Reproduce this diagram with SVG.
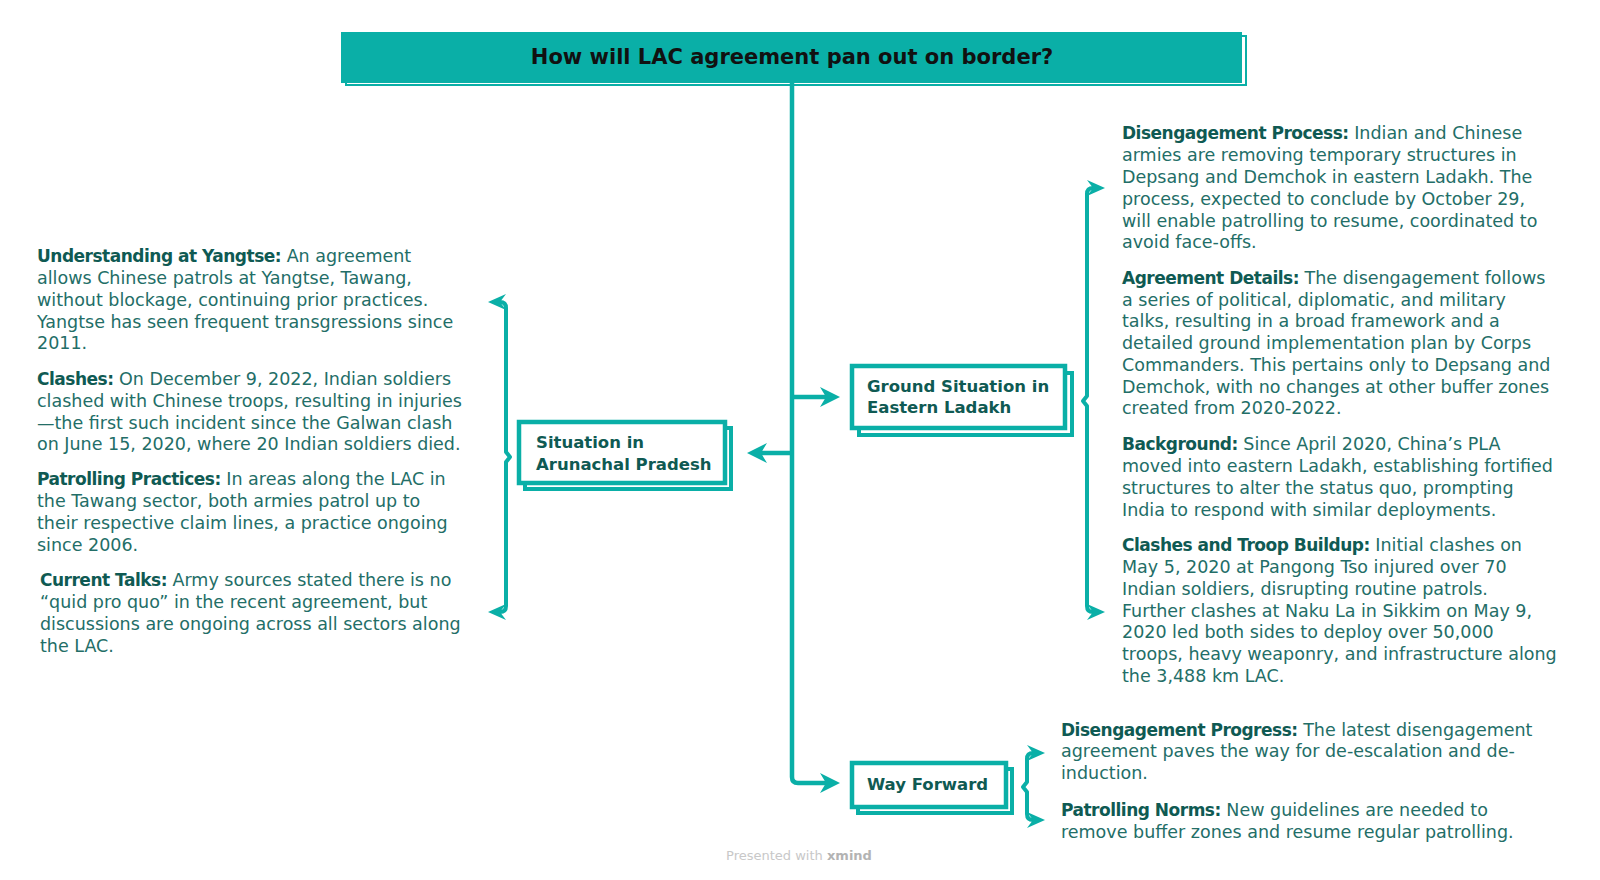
<svg xmlns="http://www.w3.org/2000/svg" width="1600" height="880" viewBox="0 0 1600 880">
<defs>
<style>
.t{font-family:"DejaVu Sans","Liberation Sans",sans-serif;font-size:17.5px;fill:#236e67}
.b{font-weight:bold;fill:#0f5a53;font-size:17px;letter-spacing:-0.5px}
.lbl{font-family:"DejaVu Sans","Liberation Sans",sans-serif;font-size:16.5px;font-weight:bold;fill:#0f5a53}
.ln{fill:none;stroke:#0aafa7;stroke-width:4.5;stroke-linejoin:round}
.br{fill:none;stroke:#0aafa7;stroke-width:4;stroke-linejoin:round}
.bk{fill:#ffffff;stroke:#0aafa7;stroke-width:4}
.fr{fill:#ffffff;stroke:#0aafa7;stroke-width:4.5}
</style>
<marker id="ah" viewBox="0 0 20 20" refX="6" refY="10" markerWidth="20" markerHeight="20" markerUnits="userSpaceOnUse" orient="auto-start-reverse">
<path d="M0 0 L20 10 L0 20 L6 10 Z" fill="#0aafa7"/>
</marker>
<marker id="ab" viewBox="0 0 18 16" refX="6" refY="8" markerWidth="18" markerHeight="16" markerUnits="userSpaceOnUse" orient="auto-start-reverse">
<path d="M0 0 L18 8 L0 16 L6 8 Z" fill="#0aafa7"/>
</marker>
</defs>
<rect width="1600" height="880" fill="#ffffff"/>

<g id="connectors">
<path class="ln" d="M792 83 L792 777 Q792 783 798 783 L826 783" marker-end="url(#ah)"/>
<path class="ln" d="M792 397 L826 397" marker-end="url(#ah)"/>
<path class="ln" d="M792 453 L761 453" marker-end="url(#ah)"/>
<path class="br" d="M500 302 Q506 302 506 308 L506 452 L510 457 L506 462 L506 606 Q506 612 500 612" marker-start="url(#ab)" marker-end="url(#ab)"/>
<path class="br" d="M1093 188 Q1087 188 1087 194 L1087 396 L1083 401 L1087 406 L1087 606 Q1087 612 1093 612" marker-start="url(#ab)" marker-end="url(#ab)"/>
<path class="br" d="M1033 753 Q1027 753 1027 759 L1027 782 L1023 787 L1027 792 L1027 814 Q1027 820 1033 820" marker-start="url(#ab)" marker-end="url(#ab)"/>
</g>

<g id="title">
<rect x="346" y="36" width="900" height="49" fill="none" stroke="#0aafa7" stroke-width="2"/>
<rect x="341" y="32" width="901" height="51" fill="#0aafa7"/>
<text x="792" y="64" text-anchor="middle" font-family="DejaVu Sans, Liberation Sans, sans-serif" font-size="21px" font-weight="bold" fill="#111111">How will LAC agreement pan out on border?</text>
</g>

<g id="node-arunachal">
<rect class="bk" x="525" y="428" width="206" height="61"/>
<rect class="fr" x="519" y="422" width="206" height="61"/>
<text class="lbl" x="536" y="448">Situation in</text>
<text class="lbl" x="536" y="470">Arunachal Pradesh</text>
</g>

<g id="node-ground">
<rect class="bk" x="859" y="373" width="213" height="62"/>
<rect class="fr" x="852" y="366" width="213" height="62"/>
<text class="lbl" x="867" y="392">Ground Situation in</text>
<text class="lbl" x="867" y="413">Eastern Ladakh</text>
</g>

<g id="node-way">
<rect class="bk" x="858" y="769" width="154" height="44"/>
<rect class="fr" x="852" y="763" width="154" height="44"/>
<text class="lbl" x="867" y="790">Way Forward</text>
</g>

<g id="notes-arunachal">
<text class="t" x="37" y="262"><tspan class="b">Understanding at Yangtse:</tspan> An agreement</text>
<text class="t" x="37" y="284">allows Chinese patrols at Yangtse, Tawang,</text>
<text class="t" x="37" y="306">without blockage, continuing prior practices.</text>
<text class="t" x="37" y="328">Yangtse has seen frequent transgressions since</text>
<text class="t" x="37" y="349">2011.</text>
<text class="t" x="37" y="385"><tspan class="b">Clashes:</tspan> On December 9, 2022, Indian soldiers</text>
<text class="t" x="37" y="407">clashed with Chinese troops, resulting in injuries</text>
<text class="t" x="37" y="429">—the first such incident since the Galwan clash</text>
<text class="t" x="37" y="450">on June 15, 2020, where 20 Indian soldiers died.</text>
<text class="t" x="37" y="485"><tspan class="b">Patrolling Practices:</tspan> In areas along the LAC in</text>
<text class="t" x="37" y="507">the Tawang sector, both armies patrol up to</text>
<text class="t" x="37" y="529">their respective claim lines, a practice ongoing</text>
<text class="t" x="37" y="551">since 2006.</text>
<text class="t" x="40" y="586"><tspan class="b">Current Talks:</tspan> Army sources stated there is no</text>
<text class="t" x="40" y="608">“quid pro quo” in the recent agreement, but</text>
<text class="t" x="40" y="630">discussions are ongoing across all sectors along</text>
<text class="t" x="40" y="652">the LAC.</text>
</g>

<g id="notes-ground">
<text class="t" x="1122" y="139"><tspan class="b">Disengagement Process:</tspan> Indian and Chinese</text>
<text class="t" x="1122" y="161">armies are removing temporary structures in</text>
<text class="t" x="1122" y="183">Depsang and Demchok in eastern Ladakh. The</text>
<text class="t" x="1122" y="205">process, expected to conclude by October 29,</text>
<text class="t" x="1122" y="227">will enable patrolling to resume, coordinated to</text>
<text class="t" x="1122" y="248">avoid face-offs.</text>
<text class="t" x="1122" y="284"><tspan class="b">Agreement Details:</tspan> The disengagement follows</text>
<text class="t" x="1122" y="306">a series of political, diplomatic, and military</text>
<text class="t" x="1122" y="327">talks, resulting in a broad framework and a</text>
<text class="t" x="1122" y="349">detailed ground implementation plan by Corps</text>
<text class="t" x="1122" y="371">Commanders. This pertains only to Depsang and</text>
<text class="t" x="1122" y="393">Demchok, with no changes at other buffer zones</text>
<text class="t" x="1122" y="414">created from 2020-2022.</text>
<text class="t" x="1122" y="450"><tspan class="b">Background:</tspan> Since April 2020, China’s PLA</text>
<text class="t" x="1122" y="472">moved into eastern Ladakh, establishing fortified</text>
<text class="t" x="1122" y="494">structures to alter the status quo, prompting</text>
<text class="t" x="1122" y="516">India to respond with similar deployments.</text>
<text class="t" x="1122" y="551"><tspan class="b">Clashes and Troop Buildup:</tspan> Initial clashes on</text>
<text class="t" x="1122" y="573">May 5, 2020 at Pangong Tso injured over 70</text>
<text class="t" x="1122" y="595">Indian soldiers, disrupting routine patrols.</text>
<text class="t" x="1122" y="617">Further clashes at Naku La in Sikkim on May 9,</text>
<text class="t" x="1122" y="638">2020 led both sides to deploy over 50,000</text>
<text class="t" x="1122" y="660">troops, heavy weaponry, and infrastructure along</text>
<text class="t" x="1122" y="682">the 3,488 km LAC.</text>
</g>

<g id="notes-way">
<text class="t" x="1061" y="736"><tspan class="b">Disengagement Progress:</tspan> The latest disengagement</text>
<text class="t" x="1061" y="757">agreement paves the way for de-escalation and de-</text>
<text class="t" x="1061" y="779">induction.</text>
<text class="t" x="1061" y="816"><tspan class="b">Patrolling Norms:</tspan> New guidelines are needed to</text>
<text class="t" x="1061" y="838">remove buffer zones and resume regular patrolling.</text>
</g>

<g id="footer">
<text x="799" y="860" text-anchor="middle" font-family="DejaVu Sans, Liberation Sans, sans-serif" font-size="13px" fill="#c8c8c8">Presented with <tspan font-weight="bold" fill="#b3b3b3">xmind</tspan></text>
</g>
</svg>
